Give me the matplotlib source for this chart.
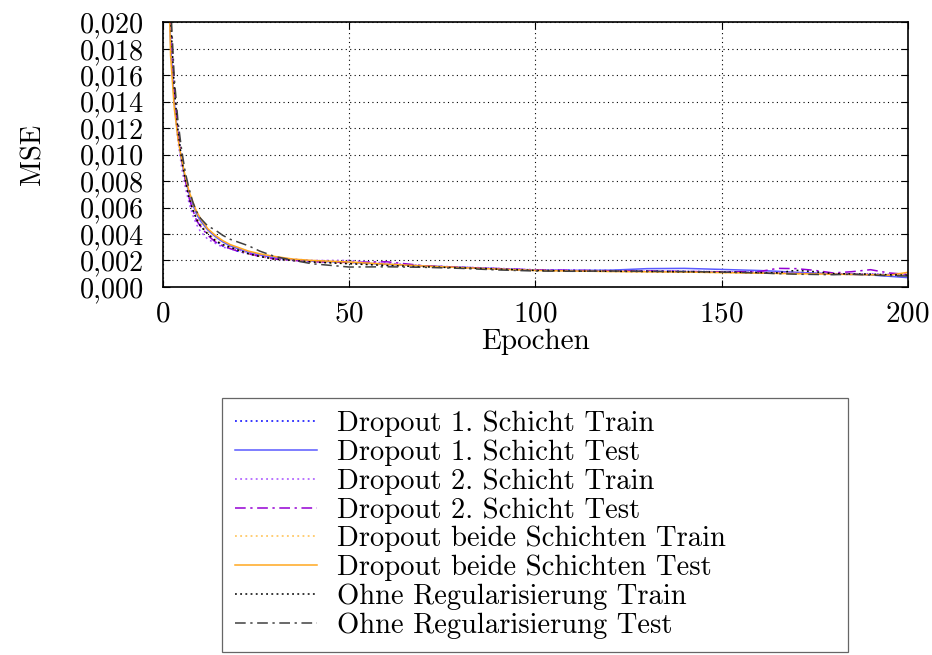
import numpy as np
import matplotlib
matplotlib.use('Agg')
import matplotlib.pyplot as plt
from matplotlib.ticker import FuncFormatter, MultipleLocator

plt.rcParams['font.family'] = 'cmr10'
plt.rcParams['mathtext.fontset'] = 'cm'
plt.rcParams['axes.formatter.use_mathtext'] = True

epochs = [1, 2, 3, 4, 5, 6, 7, 8, 9, 10, 12, 14, 16, 18, 20, 23, 26, 30, 35, 40,
          50, 60, 70, 80, 90, 100, 110, 120, 130, 140, 150, 160, 165, 170, 175,
          180, 185, 190, 195, 200]

d1_train = [0.0290, 0.0195, 0.0145, 0.0115, 0.0096, 0.0079, 0.0067, 0.0058, 0.0052, 0.0047,
            0.0040, 0.0035, 0.0031, 0.0029, 0.0027, 0.0025, 0.0023, 0.0021, 0.0020, 0.00192,
            0.00182, 0.00168, 0.00158, 0.00148, 0.00138, 0.00128, 0.00126, 0.00124, 0.00122, 0.00118,
            0.00114, 0.00110, 0.00106, 0.00104, 0.00102, 0.00100, 0.00097, 0.00094, 0.00090, 0.00086]
d1_test = [0.0300, 0.0185, 0.0140, 0.0113, 0.0095, 0.0081, 0.0070, 0.0062, 0.0055, 0.0050,
           0.0043, 0.0038, 0.0034, 0.0031, 0.0029, 0.0026, 0.0024, 0.0022, 0.00205, 0.00195,
           0.00185, 0.00170, 0.00158, 0.00148, 0.00136, 0.00126, 0.00124, 0.00126, 0.00138, 0.00140,
           0.00132, 0.00124, 0.00118, 0.00110, 0.00104, 0.00098, 0.00094, 0.00090, 0.00080, 0.00070]
d2_train = [0.0280, 0.0190, 0.0140, 0.0110, 0.0090, 0.0075, 0.0063, 0.0054, 0.0047, 0.0042,
            0.0036, 0.0033, 0.0030, 0.0029, 0.0028, 0.0026, 0.0024, 0.0022, 0.0021, 0.0020,
            0.0020, 0.00180, 0.00160, 0.00150, 0.00140, 0.00130, 0.00125, 0.00120, 0.00118, 0.00116,
            0.00115, 0.00112, 0.00110, 0.00108, 0.00105, 0.00100, 0.00098, 0.00100, 0.00095, 0.00090]
d2_test = [0.0310, 0.0200, 0.0150, 0.0118, 0.0097, 0.0080, 0.0067, 0.0058, 0.0050, 0.0046,
           0.0039, 0.0034, 0.0031, 0.0029, 0.0027, 0.0025, 0.0023, 0.0021, 0.0020, 0.0019,
           0.00185, 0.00190, 0.00160, 0.00148, 0.00138, 0.00128, 0.00125, 0.00122, 0.00120, 0.00116,
           0.00114, 0.00115, 0.00140, 0.00138, 0.00125, 0.00105, 0.00115, 0.00130, 0.00105, 0.00095]
both_train = [0.0290, 0.0192, 0.0143, 0.0114, 0.0095, 0.0080, 0.0068, 0.0060, 0.0053, 0.0048,
              0.0041, 0.0036, 0.0032, 0.0030, 0.0028, 0.0025, 0.0023, 0.0021, 0.0020, 0.00190,
              0.00178, 0.00165, 0.00155, 0.00145, 0.00135, 0.00125, 0.00120, 0.00118, 0.00116, 0.00112,
              0.00108, 0.00104, 0.00102, 0.00100, 0.00098, 0.00096, 0.00094, 0.00092, 0.00090, 0.00088]
both_test = [0.0300, 0.0175, 0.0135, 0.0112, 0.0096, 0.0083, 0.0072, 0.0064, 0.0057, 0.0052,
             0.0044, 0.0039, 0.0035, 0.0032, 0.0030, 0.0027, 0.0025, 0.0023, 0.0021, 0.00200,
             0.00188, 0.00172, 0.00158, 0.00146, 0.00134, 0.00124, 0.00120, 0.00116, 0.00114, 0.00112,
             0.00108, 0.00104, 0.00102, 0.00100, 0.00098, 0.00096, 0.00094, 0.00092, 0.00088, 0.00110]
none_train = [0.0300, 0.0205, 0.0150, 0.0118, 0.0096, 0.0080, 0.0067, 0.0058, 0.0051, 0.0046,
              0.0040, 0.0035, 0.0032, 0.0030, 0.0028, 0.0025, 0.0023, 0.0021, 0.0020, 0.00188,
              0.00175, 0.00162, 0.00152, 0.00144, 0.00134, 0.00124, 0.00120, 0.00118, 0.00116, 0.00114,
              0.00112, 0.00108, 0.00106, 0.00125, 0.00115, 0.00100, 0.00098, 0.00096, 0.00092, 0.00088]
none_test = [0.0320, 0.0215, 0.0158, 0.0125, 0.0103, 0.0086, 0.0074, 0.0064, 0.0057, 0.0052,
             0.0046, 0.0043, 0.0039, 0.0036, 0.0034, 0.0031, 0.0027, 0.0023, 0.0020, 0.00175,
             0.00150, 0.00152, 0.00148, 0.00140, 0.00128, 0.00120, 0.00118, 0.00120, 0.00118, 0.00116,
             0.00112, 0.00106, 0.00100, 0.00096, 0.00094, 0.00092, 0.00096, 0.00090, 0.00085, 0.00082]

labels = ['Dropout 1. Schicht Train', 'Dropout 1. Schicht Test',
          'Dropout 2. Schicht Train', 'Dropout 2. Schicht Test',
          'Dropout beide Schichten Train', 'Dropout beide Schichten Test',
          'Ohne Regularisierung Train', 'Ohne Regularisierung Test']

dotted = (0, (1.2, 2.2))
dashdot = (0, (7, 3, 1.5, 3))
styles = [('#0000ff', dotted), ('#5a5aff', '-'),
          ('#a64dff', dotted), ('#9400d3', dashdot),
          ('#ffc04d', dotted), ('#ffa820', '-'),
          ('#000000', dotted), ('#404040', dashdot)]
series = [d1_train, d1_test, d2_train, d2_test, both_train, both_test, none_train, none_test]

fig = plt.figure(figsize=(9.32, 6.55), dpi=100)
ax = fig.add_axes([0.175, 0.562, 0.799, 0.404])

handles = []
for vals, (col, ls), lab in zip(series, styles, labels):
    h, = ax.plot(epochs, vals, color=col, linestyle=ls, linewidth=1.1, label=lab)
    handles.append(h)

ax.set_xlim(0, 200)
ax.set_ylim(0, 0.020)
ax.xaxis.set_major_locator(MultipleLocator(50))
ax.yaxis.set_major_locator(MultipleLocator(0.002))
ax.yaxis.set_major_formatter(FuncFormatter(lambda v, p: f'{v:.3f}'.replace('.', ',')))
ax.grid(True, color='black', linestyle=(0, (1, 3)), linewidth=0.8)
ax.tick_params(direction='in', top=True, right=True, length=5, width=0.8)
ax.tick_params(axis='x', pad=10, labelsize=21)
ax.tick_params(axis='y', pad=14, labelsize=20.3)
for s in ax.spines.values():
    s.set_linewidth(1.2)

ax.set_xlabel('Epochen', fontsize=21, labelpad=1)
ax.set_ylabel('MSE', fontsize=20.5, labelpad=24)

leg = fig.legend(handles=handles, loc='lower left',
                 bbox_to_anchor=(0.238, 0.005, 0.672, 0.389), mode='expand',
                 fontsize=20.6, frameon=True, fancybox=False, edgecolor='#404040',
                 handlelength=2.86, handletextpad=0.7, labelspacing=0.08,
                 borderpad=0.45, borderaxespad=0)
leg.get_frame().set_linewidth(0.9)

fig.savefig('out.png', dpi=100)
